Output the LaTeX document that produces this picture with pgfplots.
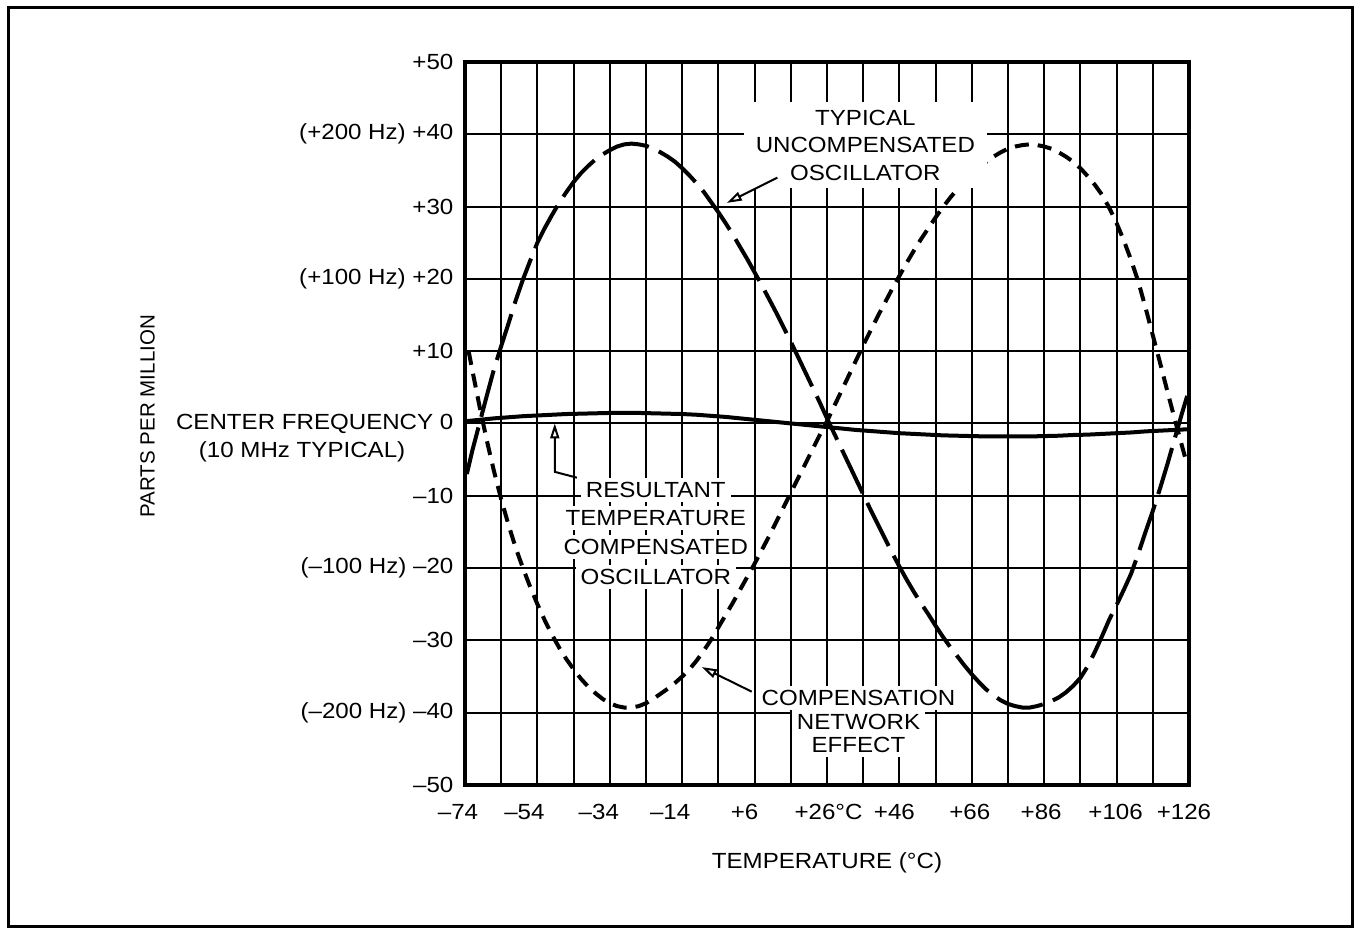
\documentclass[border=0pt]{standalone}
\usepackage{fontspec}
\setmainfont[FakeStretch=1.1]{Liberation Sans}
\newfontfamily\narrowfont{Liberation Sans}
\usepackage{pgfplots}
\pgfplotsset{compat=1.18}
\usetikzlibrary{arrows.meta}

\begin{document}
\begin{tikzpicture}[font=\fontsize{11}{13.75}\selectfont,
  lbl/.style={fill=white, inner xsep=2.5bp, inner ysep=1.6bp, text height=8bp, text depth=0.6bp},
  arr/.style={line width=1bp, -{Triangle[open,length=7.5bp,width=4.5bp]}}]
\begin{axis}[
  width=362bp, height=361.5bp, scale only axis,
  xmin=-74, xmax=126, ymin=-50, ymax=50,
  xtick={-74,-54,-34,-14,6,26,46,66,86,106,126},
  minor xtick={-64,-44,-24,-4,16,36,56,76,96,116},
  ytick={-50,-40,-30,-20,-10,0,10,20,30,40,50},
  xticklabels={–74\hspace*{7bp},–54\hspace*{13bp},–34\hspace*{11bp},–14\hspace*{12bp},+6\hspace*{10bp},+26\rlap{°C}\hspace*{12bp},+46\hspace*{5bp},+66\hspace*{2bp},+86\hspace*{3bp},+106\hspace*{1bp},+126\hspace*{5bp}},
  yticklabels={–50,(–200 Hz) –40,–30,(–100 Hz) –20,–10,CENTER FREQUENCY 0,+10,(+100 Hz) +20,+30,(+200 Hz) +40,+50},
  grid=both,
  major grid style={black, line width=1bp},
  minor grid style={black, line width=1bp},
  major tick length=0pt, minor tick length=0pt,
  axis line style={line width=1.6bp},
  xticklabel style={yshift=-6bp},
  yticklabel style={xshift=-2.3bp},
  clip=false,
]
% typical uncompensated oscillator (long dashes)
\addplot[black, line width=2bp, dash pattern=on 24bp off 5.5bp] coordinates {
(-73.5,-7.0) (-72,-3.8) (-70,0.0) (-68,3.8) (-66,7.5) (-64,10.7) (-62,13.8) (-60,17.0) (-58,19.9) (-56,22.5) (-54,25.0) (-52,27.0) (-50,28.8) (-48,30.5) (-46,32.0) (-44,33.4) (-42,34.6) (-40,35.6) (-38,36.5) (-36,37.2) (-34,37.8) (-32,38.3) (-30,38.6) (-28,38.7) (-26,38.6) (-24,38.4) (-22,38.0) (-20,37.5) (-18,36.9) (-16,36.2) (-14,35.3) (-12,34.3) (-10,33.2) (-8,32.0) (-6,30.6) (-4,29.2) (-2,27.7) (0,26.1) (2,24.4) (4,22.7) (6,20.9) (8,19.1) (10,17.2) (12,15.3) (14,13.3) (16,11.3) (18,9.2) (20,7.1) (22,5.0) (24,2.9) (26,0.7) (28,-1.4) (30,-3.5) (32,-5.6) (34,-7.7) (36,-9.8) (38,-11.9) (40,-13.9) (42,-15.9) (44,-17.9) (46,-19.8) (48,-21.6) (50,-23.3) (52,-24.9) (54,-26.4) (56,-28.0) (58,-29.5) (60,-30.9) (62,-32.2) (64,-33.5) (66,-34.7) (68,-35.8) (70,-36.8) (72,-37.6) (74,-38.3) (76,-38.8) (78,-39.1) (80,-39.3) (82,-39.3) (84,-39.1) (86,-38.8) (88,-38.4) (90,-37.9) (92,-37.2) (94,-36.3) (96,-35.2) (98,-33.6) (100,-31.6) (102,-29.4) (104,-27.1) (106,-25.1) (108,-23.0) (110,-20.8) (112,-18.0) (114,-15.0) (116,-12.1) (118,-9.0) (120,-5.7) (122,-2.2) (124,1.3) (125.5,3.8)
};
% compensation network effect (short dashes)
\addplot[black, line width=2bp, dash pattern=on 7bp off 4.5bp] coordinates {
(-73,10.0) (-72,7.4) (-70,2.4) (-68,-2.3) (-66,-6.6) (-64,-10.5) (-62,-14.0) (-60,-17.2) (-58,-20.0) (-56,-22.6) (-54,-25.0) (-52,-27.2) (-50,-29.2) (-48,-31.0) (-46,-32.6) (-44,-34.0) (-42,-35.3) (-40,-36.4) (-38,-37.3) (-36,-38.1) (-34,-38.7) (-32,-39.1) (-30,-39.3) (-28,-39.3) (-26,-39.1) (-24,-38.7) (-22,-38.1) (-20,-37.4) (-18,-36.7) (-16,-35.9) (-14,-35.0) (-12,-34.0) (-10,-32.8) (-8,-31.4) (-6,-29.9) (-4,-28.2) (-2,-26.5) (0,-24.8) (2,-23.0) (4,-21.2) (6,-19.4) (8,-17.5) (10,-15.6) (12,-13.6) (14,-11.6) (16,-9.6) (18,-7.6) (20,-5.6) (22,-3.6) (24,-1.6) (26,0.3) (28,2.4) (30,4.5) (32,6.6) (34,8.7) (36,10.8) (38,12.8) (40,14.8) (42,16.7) (44,18.6) (46,20.4) (48,22.2) (50,23.9) (52,25.5) (54,27.0) (56,28.5) (58,29.9) (60,31.2) (62,32.4) (64,33.5) (66,34.5) (68,35.4) (70,36.2) (72,36.9) (74,37.5) (76,38.0) (78,38.3) (80,38.5) (82,38.6) (84,38.5) (86,38.3) (88,38.0) (90,37.5) (92,36.9) (94,36.2) (96,35.3) (98,34.2) (100,33.0) (102,31.6) (104,29.8) (106,27.7) (108,25.3) (110,22.6) (112,19.6) (114,16.0) (116,12.2) (118,8.4) (120,4.5) (122,0.7) (124,-3.0) (125.5,-5.7)
};
% resultant temperature compensated oscillator (solid)
\addplot[black, line width=2bp] coordinates {
(-74,0.3) (-70,0.5) (-66,0.7) (-62,0.85) (-58,1.0) (-54,1.1) (-50,1.2) (-46,1.3) (-42,1.35) (-38,1.4) (-34,1.45) (-30,1.45) (-26,1.45) (-22,1.4) (-18,1.35) (-14,1.3) (-10,1.2) (-6,1.05) (-2,0.9) (2,0.7) (6,0.5) (10,0.3) (14,0.1) (18,-0.1) (22,-0.3) (26,-0.5) (30,-0.7) (34,-0.9) (38,-1.05) (42,-1.2) (46,-1.35) (50,-1.45) (54,-1.55) (58,-1.65) (62,-1.7) (66,-1.75) (70,-1.8) (74,-1.8) (78,-1.8) (82,-1.8) (86,-1.75) (90,-1.7) (94,-1.6) (98,-1.55) (102,-1.45) (106,-1.35) (110,-1.25) (114,-1.1) (118,-1.0) (122,-0.9) (126,-0.8)
};

% annotations
\node[fill=white, inner xsep=6bp, inner ysep=4bp, align=center] at (axis cs:36.6,38.5) {TYPICAL\\UNCOMPENSATED\\OSCILLATOR};
\draw[arr] (axis cs:12.3,34.0) -- (axis cs:-1.7,30.5);

\node[lbl] at (axis cs:-21.3,-9.2) {RESULTANT};
\node[lbl] at (axis cs:-21.3,-13.07) {TEMPERATURE};
\node[lbl] at (axis cs:-21.3,-17.08) {COMPENSATED};
\node[lbl] at (axis cs:-21.3,-21.23) {OSCILLATOR};
\draw[arr] (axis cs:-43.1,-7.5) -- (axis cs:-49.2,-6.7) -- (axis cs:-49.2,0.0);

\node[lbl] at (axis cs:34.7,-37.97) {COMPENSATION};
\node[lbl] at (axis cs:34.7,-41.3) {NETWORK};
\node[lbl] at (axis cs:34.7,-44.5) {EFFECT};
\draw[arr] (axis cs:5.2,-37.1) -- (axis cs:-8.6,-33.7);

% axis titles
\node[rotate=90, font=\narrowfont\fontsize{10.3}{12}\selectfont] at (axis cs:-161.7,1.0) {PARTS PER MILLION};
\node at (axis cs:-119,-3.94) {(10 MHz TYPICAL)};
\node at (rel axis cs:0.5,-0.1079) {TEMPERATURE (°C)};

% outer frame and page size
\draw[line width=1.5bp] (rel axis cs:-0.6312,-0.1964) rectangle (rel axis cs:1.2265,1.0747);
\path (rel axis cs:-0.6423,-0.2019) rectangle (rel axis cs:1.2376,1.0857);
\end{axis}
\end{tikzpicture}
\end{document}
